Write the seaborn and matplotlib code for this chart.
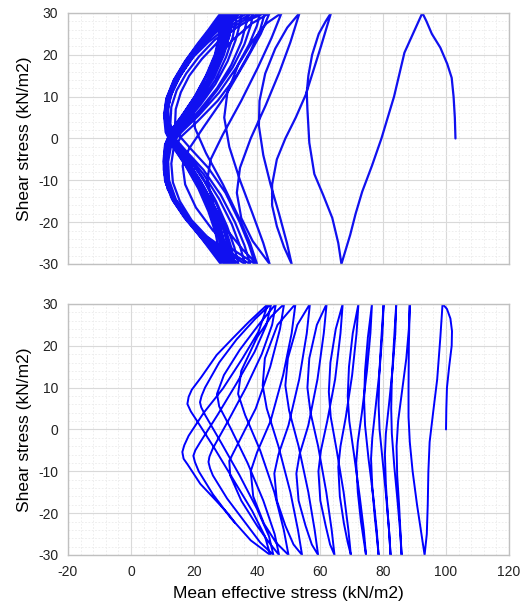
import matplotlib
matplotlib.use("Agg")
import matplotlib.pyplot as plt
import seaborn as sns
import pandas as pd
from matplotlib.ticker import AutoMinorLocator

# Stress paths: (mean effective stress p', shear stress q)
# ---- upper panel (test), first cycles
test_early = [
    (103, 0), (102.8, 5), (102.4, 10), (101.8, 14.5), (100.4, 17.8), (98.2, 21.7), (95.5, 25), (93.8, 28), (92.5, 30),
    (89.5, 25), (86.8, 20.5), (83.5, 10), (79.5, 0), (76.5, -6.5), (73.4, -12.7), (71.3, -18), (69.6, -23), (68, -27), (66.8, -30),
    (65.8, -25), (63.9, -19), (61, -13.5), (58.2, -8.5), (56.6, -1), (56, 7), (55.8, 11), (56.3, 15), (57.5, 20), (59.6, 25), (61.8, 28), (63.5, 30),
    (60.3, 22), (57.8, 16), (55.5, 10.5), (52.3, 5), (49, 0), (46.3, -5), (44.8, -11), (44.8, -16), (46.3, -21), (48.6, -26), (51, -30),
    (49.5, -25), (47, -18), (44.3, -11), (42, -4), (40.6, 3), (40.8, 9), (42.6, 15.5), (45.8, 21.5), (49.6, 26.5), (53.5, 30),
    (50.6, 23), (47.2, 16), (42.8, 8), (38, 0), (34.6, -7), (33.6, -13), (35, -19), (38.6, -24.5), (44, -30),
    (42, -25), (38.6, -18), (34.6, -10), (31.2, -2), (29.6, 5), (30.6, 11), (34, 17.5), (38.8, 23.5), (43, 27.5), (47.8, 30),
    (44.6, 24), (40.3, 17), (35, 9), (29.2, 1), (25.3, -5), (24.2, -10), (26.2, -16), (30.6, -22), (35.4, -26.5), (40, -30),
    (37.8, -25), (34, -18.5), (29.2, -11), (23.8, -3.5), (20.3, 2.5), (19.8, 7), (21.8, 12), (26, 18), (32.2, 23.5), (38.4, 27.5), (44, 30),
    (41.2, 25), (36.4, 18.5), (30.2, 10.5), (23.3, 3), (18.4, -2.5), (16.4, -6.5), (17.2, -11), (20.6, -16.5), (26, -22), (32.2, -26.5), (39.4, -30),
]

# ---- upper panel (test), cyclic mobility loops
test_loops = [
    (37.5, -25.5), (34.5, -20), (30, -13), (24.5, -7), (19, -2.5), (15.5, 0.5), (14, 3.5), (14.2, 7), (15.8, 11), (18.5, 15), (22.5, 19), (27.5, 23), (33.5, 26.5), (38, 28.5), (42.5, 30),
    (41, 26), (38, 21), (33.5, 15), (27.5, 9), (21, 4), (16, 0.5), (13.5, -2.5), (12.8, -6), (13.3, -10.5), (15.5, -15), (19.2, -19.5), (24.2, -23.5), (30.8, -27), (37.8, -30),
    (36, -25.5), (33, -20), (28.5, -13.5), (23, -7.5), (17.5, -3), (14, 0), (12.5, 3.5), (12.8, 7.5), (14.5, 11.5), (17.5, 15.5), (21.5, 19.5), (26.5, 23.5), (32, 26.5), (36.5, 28.5), (41, 30),
    (40, 27), (37.5, 22.5), (33.5, 17), (28, 11), (21.5, 5.5), (16, 1.5), (12.8, -1.5), (11.8, -5.5), (12.1, -10), (14.2, -14.5), (18, -19), (23.2, -23), (29.3, -26.8), (36.2, -30),
    (34.5, -25.5), (32, -20.5), (28, -14.5), (23, -8.5), (17.5, -3.5), (13.5, 0), (12, 3.5), (11.8, 7.5), (13.2, 11.5), (16, 15.5), (19.8, 19.5), (24.5, 23), (29.5, 26), (34.5, 28.3), (38.8, 30),
    (38, 27), (36, 22.5), (32.3, 17), (27.3, 11.5), (21.5, 6), (16, 2), (12.5, -1.5), (11.2, -5), (11.3, -9.5), (13.2, -14), (17, -18.5), (22, -22.5), (27.8, -26.3), (34.1, -30),
    (32.8, -26), (30.5, -21), (27, -15), (22.5, -9), (17.5, -4), (13.5, -0.5), (11.8, 3), (11.3, 7), (12.5, 11), (15.2, 15), (19, 19.5), (23.5, 23), (28.5, 26.3), (33, 28.5), (37.3, 30),
    (36.6, 27.5), (35, 23), (31.8, 17.5), (27.3, 12), (22, 7), (16.6, 2.5), (12.5, -1), (10.9, -4.5), (10.8, -9), (12.7, -13.5), (16.4, -18), (21.2, -22), (26.6, -25.8), (32.5, -30),
    (31.3, -26), (29.3, -21), (26, -15.5), (22, -10), (17.5, -5), (13.5, -1), (11.5, 2.5), (10.9, 6.5), (12, 10.5), (14.7, 14.5), (18.5, 18.8), (22.8, 22.5), (27.3, 25.8), (31.5, 28.3), (35.1, 30),
    (34.6, 27.5), (33.2, 23.5), (30.7, 18.5), (26.8, 13), (22, 8), (17, 3.5), (12.8, 0), (10.8, -3.5), (10.4, -7.5), (11.6, -12), (14.9, -16.5), (19.5, -21), (24.8, -25), (30.9, -30),
    (30, -26.5), (28.2, -21.5), (25.5, -16), (21.8, -10.5), (17.5, -5.5), (13.5, -1.5), (11.3, 2), (10.8, 6), (11.8, 10), (14.5, 14.3), (18.3, 18.5), (22.5, 22.3), (26.8, 25.8), (30.5, 28.3), (33.5, 30),
    (33.2, 27.5), (32.2, 24), (30.2, 19.5), (26.8, 14), (22.3, 9), (17.5, 4.5), (13.3, 1), (11.2, -2.5), (10.6, -6.5), (11.3, -11), (14, -15.5), (18.5, -20), (23.8, -24.5), (30, -30),
    (29.3, -27), (28, -22.5), (25.8, -17.5), (22.5, -12), (18.3, -6.5), (14, -2), (11.5, 1.5), (10.8, 5.5), (11.5, 9.5), (14, 14), (17.8, 18.5), (22, 22.3), (26, 25.5), (29.3, 28), (32, 30),
    (31.8, 28), (31.2, 24.5), (29.5, 20), (26.3, 14.5), (22, 9.5), (17.3, 5), (13, 1.5), (11, -2), (10.5, -6), (11, -10.5), (13.5, -15), (17.7, -19.5), (23, -24), (27.8, -27.5), (31.5, -30),
    (30.3, -26.5), (28.5, -22), (25.8, -17), (22, -11.5), (17.8, -6), (13.8, -1.5), (11.5, 2), (11, 6), (12, 10), (14.8, 14.5), (18.5, 19), (22.5, 23), (26, 26.2), (28.5, 28.5), (30.4, 30),
    (30.2, 27.8), (29.6, 24.5), (28, 20), (25.2, 15), (21.3, 10), (17, 5.5), (13, 2), (11, -1.5), (10.6, -5.5), (11, -10), (13.3, -14.5), (17.3, -19), (22.3, -23.5), (26.6, -27.5), (29.5, -30),
    (28.8, -27), (27.5, -22.5), (25.2, -17.5), (21.8, -12), (17.5, -6.5), (13.5, -2), (11.3, 1.5), (10.9, 5.5), (11.8, 9.5), (14.5, 14), (18.3, 18.5), (22.3, 22.5), (25.8, 26), (28.3, 28.5), (30, 30),
    (29.8, 27.5), (29, 24), (27.3, 19.5), (24.5, 14.5), (20.7, 9.5), (16.5, 5), (13, 1.5), (11.2, -2), (10.9, -6), (11.7, -10.5), (14.2, -15), (18.5, -19.5), (23.8, -24), (28.6, -27.5), (33, -30),
    (31.8, -26), (30, -21.5), (27.3, -16), (23.5, -10.5), (19, -5.5), (14.5, -1.5), (12, 2), (11.5, 6), (12.5, 10), (15.3, 14.5), (19, 18.8), (23, 22.8), (26.8, 26), (29.3, 28.5), (31, 30),
    (30.8, 28), (30.2, 24.5), (28.5, 20), (25.5, 15), (21.5, 10), (17.2, 5.5), (13.2, 1.8), (11.1, -1.8), (10.7, -5.8), (11.3, -10.3), (14, -14.8), (18.2, -19.3), (23.3, -23.8), (27.6, -27.5), (30.5, -30),
    (29.8, -27), (28.4, -22.5), (26, -17.5), (22.6, -12), (18.3, -6.5), (14, -2), (11.4, 1.5), (10.6, 5.5), (11.3, 9.5), (13.7, 14), (17.3, 18.5), (21.3, 22.5), (25, 26), (27.5, 28.5), (29, 30),
    (28.9, 28), (28.4, 24.5), (26.8, 20), (24, 15), (20.3, 10), (16.3, 5.5), (12.8, 2), (10.8, -1.5), (10.3, -5.5), (10.8, -10), (13, -14.5), (17, -19), (22, -23.5), (26.8, -27.5), (31, -30),
    (30, -26.5), (28.6, -22), (26.3, -17), (22.8, -11.5), (18.5, -6), (14.3, -1.5), (11.8, 2), (11.2, 6), (12.2, 10), (15, 14.5), (18.8, 19), (22.8, 23), (26.8, 26.2), (29.8, 28.5), (32.5, 30),
    (32.2, 28), (31.2, 24.5), (29.2, 20), (26, 15), (22, 10), (17.6, 5.5), (13.5, 2), (11.3, -1.5), (10.8, -5.5), (11.2, -10), (13.5, -14.5), (17.3, -19), (22, -23.5), (26, -27.5), (28.5, -30),
    (28, -27), (26.8, -22.5), (24.6, -17.5), (21.4, -12), (17.3, -6.5), (13.3, -2), (11, 1.5), (10.5, 5.5), (11.2, 9.5), (13.6, 14), (17.2, 18.5), (21, 22.5), (24.6, 26), (27, 28.5), (28.5, 30),
    (28.4, 28), (28, 24.5), (26.6, 20), (23.8, 15), (20.2, 10), (16.2, 5.5), (12.8, 2), (10.9, -1.5), (10.5, -5.5), (11.1, -10), (13.6, -14.5), (17.8, -19), (22.8, -23.5), (27.5, -27.5), (32, -30),
    (31, -26.5), (29.4, -22), (26.8, -17), (23, -11.5), (18.6, -6), (14.4, -1.5), (12, 2), (11.4, 6), (12.4, 10), (15.2, 14.5), (19, 19), (23, 23), (26.8, 26.2), (29.6, 28.5), (31.5, 30),
    (31.3, 28), (30.6, 24.5), (28.8, 20), (25.7, 15), (21.7, 10), (17.4, 5.5), (13.4, 2), (11.3, -1.5), (10.9, -5.5), (11.5, -10), (14, -14.5), (18, -19), (23, -23.5), (27, -27), (29, -29),
]

# ---- lower panel (simulation), first cycles
sim_early = [
    (100, 0), (100.1, 5), (100.3, 10), (101, 15), (101.8, 20), (101.9, 23.5), (101.4, 26.5), (100.3, 28.8), (98.9, 30),
    (98.2, 22), (97.2, 12), (95.9, 4), (94.8, -3), (94.4, -10), (94.2, -18), (93.9, -25), (93.2, -30),
    (92.2, -25), (90.8, -18), (89.4, -10), (88.5, -3), (88.1, 3), (88.1, 10), (88.2, 20), (88.5, 30),
    (88.2, 24), (87.4, 17), (86, 9), (84.8, 2), (84.3, -4), (84.5, -11), (85.1, -18), (85.5, -24), (85.9, -30),
    (85.4, -24), (84.6, -17), (83.6, -9), (82.8, -1), (82.6, 5), (82.8, 12), (83.4, 20), (84.2, 30),
    (83.9, 23), (83.1, 15), (81.9, 6), (80.9, -1), (80.6, -6), (80.9, -13), (81.5, -20), (82, -25), (82.4, -30),
    (81.9, -24), (81, -16), (79.8, -7), (78.9, 0), (78.6, 6), (78.8, 13), (79.4, 21), (80.2, 30),
    (79.8, 23), (78.9, 14), (77.6, 5), (76.6, -2), (76.2, -7), (76.6, -14), (77.4, -21), (78.1, -26), (78.6, -30),
    (78, -24), (76.9, -16), (75.4, -7), (74.3, 1), (74, 7), (74.3, 14), (75.2, 22), (76.5, 30),
    (76, 23), (74.9, 14), (73.3, 4), (72, -3), (71.5, -8), (72, -15), (73, -22), (73.9, -26.5), (74.6, -30),
    (73.9, -24), (72.6, -16), (70.8, -6), (69.3, 2), (68.8, 8), (69.2, 15), (70.4, 23), (72.2, 30),
    (71.6, 23), (70.2, 13), (68.2, 3), (66.5, -4), (65.8, -9), (66.3, -16), (67.6, -22.5), (68.8, -27), (69.8, -30),
    (69, -24), (67.5, -15), (65.3, -5), (63.4, 3), (62.8, 9), (63.3, 16), (65, 24), (67.2, 30),
    (66.5, 23), (64.8, 12), (62.3, 2), (60.3, -5), (59.5, -10), (60.1, -17), (61.8, -23), (63.2, -27.5), (64.6, -30),
    (63.7, -24), (62, -15), (59.4, -4), (57, 4), (56, 10), (56.6, 17), (59, 25), (62.1, 30),
    (61.2, 23), (59.2, 12), (56.3, 1), (53.5, -6), (52.5, -10.5), (53.2, -17), (55.4, -23), (57.4, -27.5), (59.4, -30),
    (58.3, -24), (56.3, -15), (53.2, -4), (50.2, 4.5), (49, 10.5), (49.8, 17), (52.8, 25), (56.8, 30),
    (55.8, 23), (53.4, 12), (50, 1), (46.8, -6), (45.5, -10.5), (46.3, -17), (49, -23), (51.6, -27.5), (54.3, -30),
]

# ---- lower panel (simulation), butterfly loops up to the end of the run
sim_late = [
    (53, -24), (50.6, -15), (46.8, -4), (43.1, 5), (41.8, 10.5), (42.5, 17), (46.5, 25), (52.2, 30),
    (51, 23), (48.3, 13), (44.3, 2), (40, -5.5), (38, -10), (38.8, -16), (42.2, -22.5), (46, -27), (50, -30),
    (48.5, -24), (45.5, -15), (41, -5), (36.2, 3.5), (34, 8.5), (35, 14), (40, 22), (44.5, 27), (48.6, 30),
    (47.3, 24), (44.2, 15), (39.6, 5), (34.2, -3), (31.2, -7.5), (31.5, -11), (35, -17), (40, -23), (43.8, -27), (47, -30),
    (45.6, -25), (42, -17), (37, -8), (31.5, 0.5), (28, 5.5), (27.3, 8.5), (29.5, 13), (34.5, 19), (40.5, 25), (46, 30),
    (44.8, 25), (41.5, 18), (36.5, 10), (30.8, 2), (26, -4.5), (24.9, -6.5), (24.6, -7.8), (25.1, -9.3), (26, -11), (30.5, -16.5), (36, -22), (41, -27), (45.2, -30),
    (43.8, -25.5), (40, -19), (34.5, -11), (28.5, -3), (23.5, 3.5), (22.3, 5.3), (21.9, 6.5), (22.4, 8), (23.5, 10), (28, 16), (33.5, 21.5), (39.5, 26.5), (44.5, 30),
    (43, 25), (39.2, 18.5), (33.5, 11), (27.5, 3.5), (22, -3), (20.4, -5), (19.8, -6.3), (20.3, -7.8), (21.5, -10), (26, -15.5), (31.5, -21), (38, -26.5), (44.2, -30),
    (42.5, -25.5), (38.5, -19.5), (32.5, -12), (26.5, -4.5), (21, 2), (19, 4.3), (17.9, 6.1), (18.3, 7.8), (19.3, 9.5), (22.3, 12.5), (27.2, 17.8), (32.3, 21.8), (37.4, 25.7), (43.5, 30),
    (40.5, 23.4), (35.4, 17), (29.2, 9.8), (23.1, 4), (18.3, -1.5), (16.9, -3.8), (16.3, -5.4), (16.7, -7), (18, -8.4), (22, -13), (27, -17), (31, -20.3), (33, -22.3),
]

x_ticks = [-20, 0, 20, 40, 60, 80, 100, 120]
y_ticks = [-30, -20, -10, 0, 10, 20, 30]
x_label = "Mean effective stress (kN/m2)"
y_label = "Shear stress (kN/m2)"

df_test = pd.DataFrame(test_early + test_loops, columns=["p", "q"])
df_sim = pd.DataFrame(sim_early + sim_late, columns=["p", "q"])

sns.set_theme(style="whitegrid")
plt.rcParams['font.family'] = ['Liberation Sans', 'DejaVu Sans']
plt.rcParams['axes.unicode_minus'] = False

fig = plt.figure(figsize=(5.32, 6.02), dpi=100)
ax_top = fig.add_axes([0.1278, 0.5615, 0.829, 0.417])
ax_bot = fig.add_axes([0.1278, 0.0781, 0.829, 0.417])

sns.lineplot(data=df_test, x="p", y="q", sort=False, estimator=None,
             color="#1010f0", lw=1.6, ax=ax_top)
sns.lineplot(data=df_sim, x="p", y="q", sort=False, estimator=None,
             color="#0000ff", lw=1.4, ax=ax_bot)

for ax in [ax_top, ax_bot]:
    ax.set_xlim(x_ticks[0], x_ticks[-1])
    ax.set_ylim(y_ticks[0], y_ticks[-1])
    ax.set_xticks(x_ticks)
    ax.set_yticks(y_ticks)
    ax.xaxis.set_minor_locator(AutoMinorLocator(5))
    ax.yaxis.set_minor_locator(AutoMinorLocator(5))
    ax.grid(which="major", color="#d9d9d9", lw=0.8, ls="-")
    ax.grid(which="minor", color="#ebebeb", lw=0.6, ls=(0, (2, 2)))
    ax.set_axisbelow(True)
    ax.tick_params(which="both", length=0, labelsize=10, colors="#222222", pad=7)
    for s in ax.spines.values():
        s.set_color("#c0c0c0")
        s.set_linewidth(1.0)
    ax.set_ylabel(y_label, fontsize=12.5, labelpad=4, color="black")

ax_top.set_xlabel("")
ax_top.tick_params(labelbottom=False)
ax_bot.set_xlabel(x_label, fontsize=12.5, labelpad=5, color="black")

fig.savefig("out.png", dpi=100)
